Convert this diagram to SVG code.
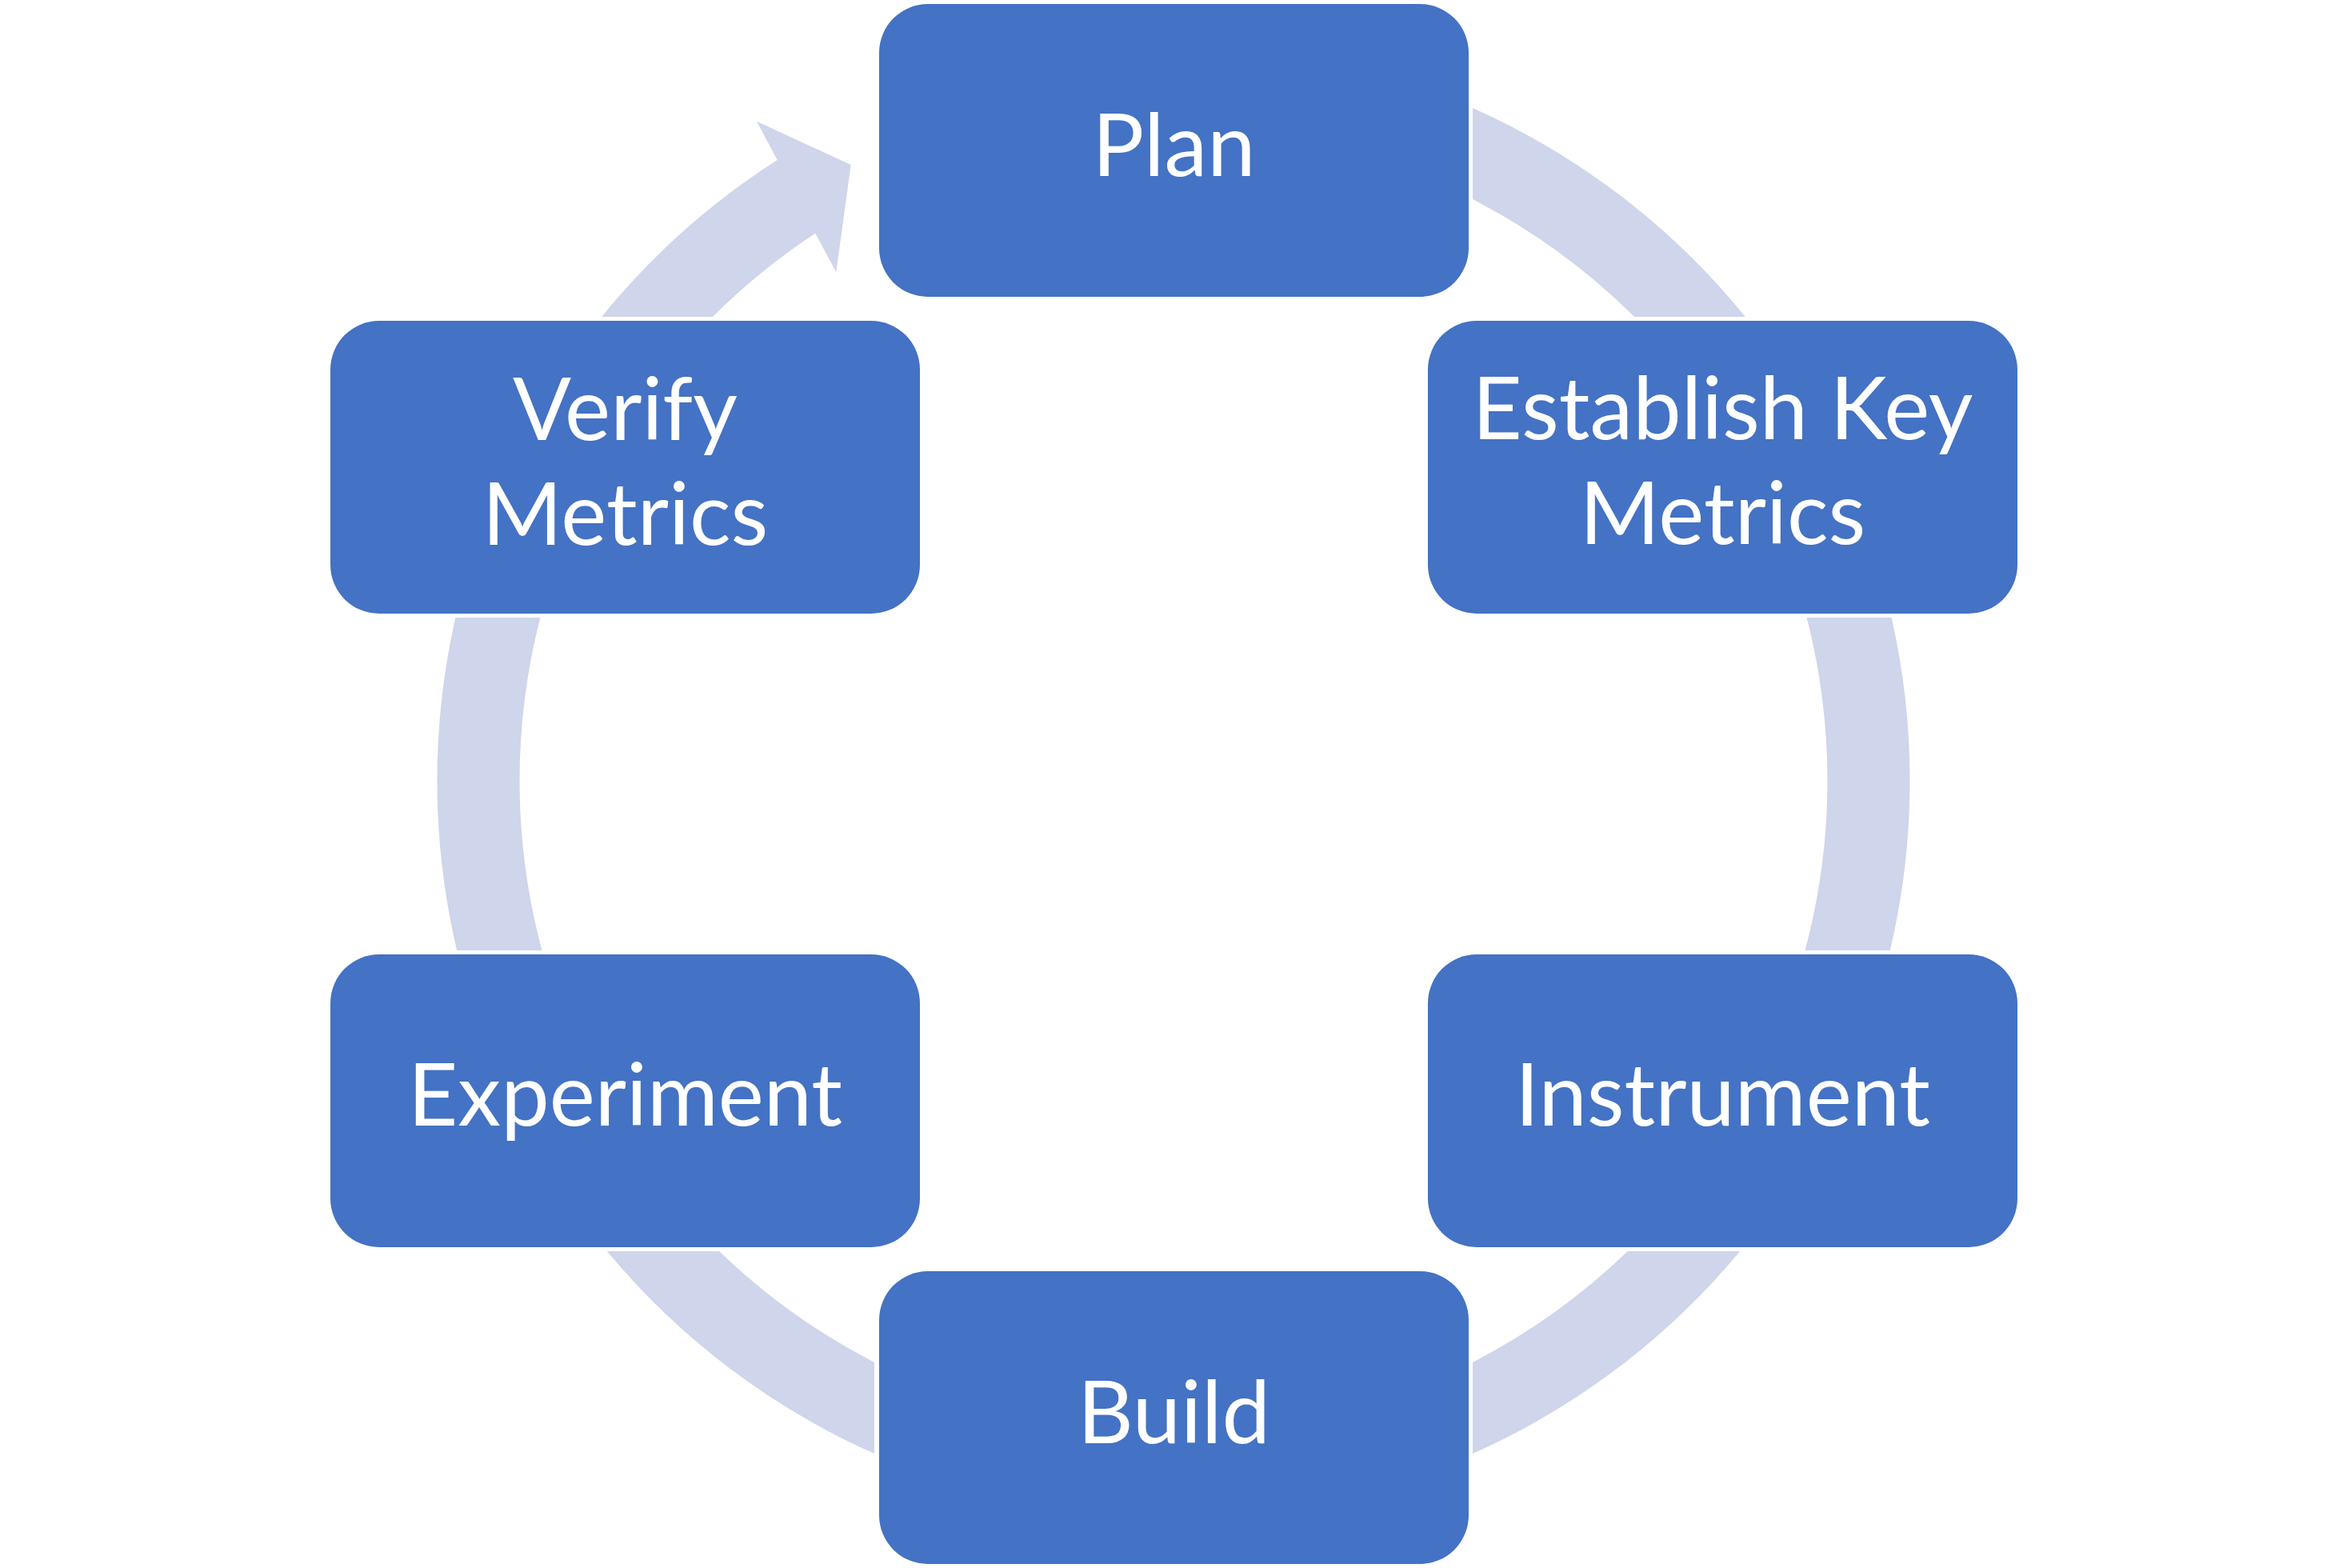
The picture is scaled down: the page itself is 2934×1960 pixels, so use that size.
<svg xmlns="http://www.w3.org/2000/svg" width="2934" height="1960" viewBox="0 0 2934 1960">
  <style>
    .box { fill: #4472C4; }
    .arc { fill: #CFD5EA; }
    .lbl { fill: #FFFFFF; font-family: Lato, "Open Sans", "Liberation Sans", sans-serif; font-size: 108px; text-anchor: middle; }
  </style>
  <rect width="2934" height="1960" fill="#FFFFFF"/>
  <g id="connectors">
    <path class="arc" d="M1841,134.9 A920.5,920.5 0 0 1 2181.8,396 L2043.1,396 A817.5,817.5 0 0 0 1841,249.1 Z"/>
    <path class="arc" d="M2364.6,772 A920.5,920.5 0 0 1 2362.8,1188 L2256.5,1188 A817.5,817.5 0 0 0 2258.6,772 Z"/>
    <path class="arc" d="M2175.2,1564 A920.5,920.5 0 0 1 1841,1817.1 L1841,1702.9 A817.5,817.5 0 0 0 2034.9,1564 Z"/>
    <path class="arc" d="M1093,1817.1 A920.5,920.5 0 0 1 758.8,1564 L899.1,1564 A817.5,817.5 0 0 0 1093,1702.9 Z"/>
    <path class="arc" d="M571.2,1188 A920.5,920.5 0 0 1 569.4,772 L675.4,772 A817.5,817.5 0 0 0 677.5,1188 Z"/>
    <path class="arc" d="M752.2,396 A920.5,920.5 0 0 1 971.7,200 L946,151.7 L1063.7,206 L1045.3,340 L1019.3,291.7 A817.5,817.5 0 0 0 890.9,396 Z"/>
  </g>
  <g id="node-plan">
    <rect class="box" x="1099" y="5" width="737" height="366" rx="61" ry="61"/>
    <text class="lbl" x="1467.5" y="220">Plan</text>
  </g>
  <g id="node-establish">
    <rect class="box" x="1785" y="401" width="737" height="366" rx="61" ry="61"/>
    <text class="lbl" x="2153.5" y="549">Establish Key</text>
    <text class="lbl" x="2153.5" y="680">Metrics</text>
  </g>
  <g id="node-instrument">
    <rect class="box" x="1785" y="1193" width="737" height="366" rx="61" ry="61"/>
    <text class="lbl" x="2153.5" y="1407">Instrument</text>
  </g>
  <g id="node-build">
    <rect class="box" x="1099" y="1589" width="737" height="366" rx="61" ry="61"/>
    <text class="lbl" x="1467.5" y="1804">Build</text>
  </g>
  <g id="node-experiment">
    <rect class="box" x="413" y="1193" width="737" height="366" rx="61" ry="61"/>
    <text class="lbl" x="781.5" y="1407">Experiment</text>
  </g>
  <g id="node-verify">
    <rect class="box" x="413" y="401" width="737" height="366" rx="61" ry="61"/>
    <text class="lbl" x="781.5" y="550">Verify</text>
    <text class="lbl" x="781.5" y="681">Metrics</text>
  </g>
</svg>
